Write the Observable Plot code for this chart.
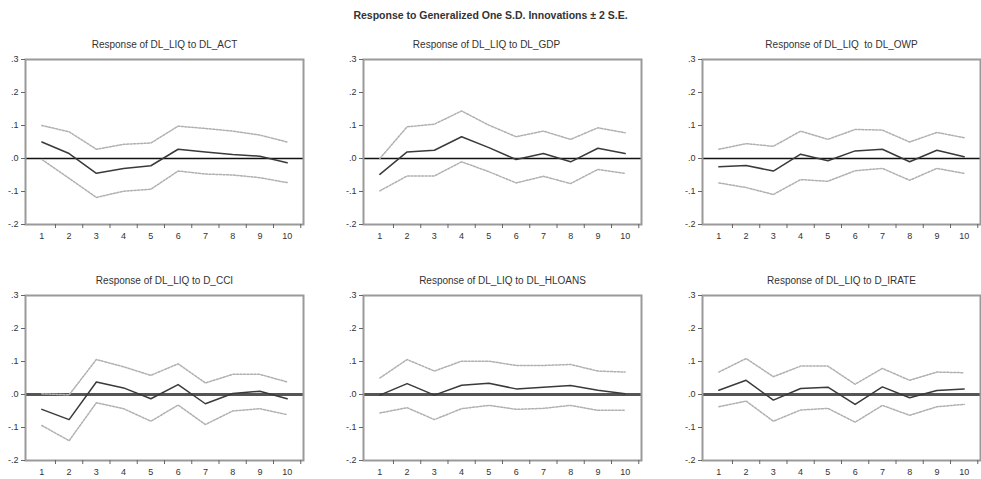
<!DOCTYPE html>
<html><head><meta charset="utf-8">
<script src="https://cdn.jsdelivr.net/npm/d3@7"></script>
<script src="https://cdn.jsdelivr.net/npm/@observablehq/plot@0.6"></script>
<style>
body{margin:0;background:#fff;overflow:hidden;}
#wrap{position:relative;width:981px;height:479px;font-family:"Liberation Sans",Arial,sans-serif;overflow:hidden;}
#main{position:absolute;top:9px;left:0;width:981px;text-align:center;font-size:10.5px;font-weight:bold;color:#333;}
.panel{position:absolute;}
</style></head><body>
<div id="wrap"><div id="main">Response to Generalized One S.D. Innovations ± 2 S.E.</div></div>
<script>
const periods = [1, 2, 3, 4, 5, 6, 7, 8, 9, 10];
const yTicks = [-0.2, -0.1, 0, 0.1, 0.2, 0.3];
const titles = [
  "Response of DL_LIQ to DL_ACT",
  "Response of DL_LIQ to DL_GDP",
  "Response of DL_LIQ  to DL_OWP",
  "Response of DL_LIQ to D_CCI",
  "Response of DL_LIQ to DL_HLOANS",
  "Response of DL_LIQ to D_IRATE"
];

const respACT  = [0.050, 0.015, -0.045, -0.030, -0.022, 0.028, 0.020, 0.012, 0.007, -0.013];
const upperACT = [0.100, 0.081, 0.028, 0.043, 0.047, 0.098, 0.091, 0.083, 0.071, 0.050];
const lowerACT = [-0.003, -0.060, -0.118, -0.099, -0.093, -0.038, -0.047, -0.050, -0.058, -0.073];

const respGDP  = [-0.048, 0.020, 0.025, 0.066, 0.033, -0.003, 0.015, -0.010, 0.031, 0.015];
const upperGDP = [0.000, 0.096, 0.104, 0.144, 0.101, 0.066, 0.083, 0.058, 0.093, 0.078];
const lowerGDP = [-0.098, -0.053, -0.053, -0.010, -0.040, -0.074, -0.054, -0.076, -0.033, -0.045];

const respOWP  = [-0.025, -0.021, -0.038, 0.013, -0.007, 0.023, 0.028, -0.010, 0.025, 0.005];
const upperOWP = [0.028, 0.045, 0.037, 0.083, 0.058, 0.088, 0.086, 0.050, 0.079, 0.063];
const lowerOWP = [-0.074, -0.088, -0.109, -0.064, -0.069, -0.037, -0.030, -0.066, -0.030, -0.045];

const respCCI  = [-0.045, -0.076, 0.038, 0.020, -0.013, 0.030, -0.028, 0.003, 0.010, -0.013];
const upperCCI = [0.002, -0.001, 0.106, 0.084, 0.058, 0.093, 0.035, 0.061, 0.061, 0.038];
const lowerCCI = [-0.094, -0.140, -0.025, -0.043, -0.081, -0.032, -0.091, -0.050, -0.043, -0.061];

const respHLOANS  = [-0.002, 0.033, -0.002, 0.028, 0.034, 0.017, 0.022, 0.027, 0.013, 0.002];
const upperHLOANS = [0.050, 0.106, 0.071, 0.101, 0.101, 0.088, 0.088, 0.091, 0.071, 0.068];
const lowerHLOANS = [-0.056, -0.040, -0.076, -0.043, -0.033, -0.045, -0.042, -0.033, -0.048, -0.048];

const respIRATE  = [0.013, 0.043, -0.017, 0.018, 0.022, -0.030, 0.023, -0.010, 0.012, 0.017];
const upperIRATE = [0.068, 0.109, 0.054, 0.086, 0.086, 0.031, 0.079, 0.043, 0.068, 0.066];
const lowerIRATE = [-0.037, -0.020, -0.081, -0.047, -0.042, -0.084, -0.033, -0.063, -0.037, -0.030];

const series = [
  [respACT, upperACT, lowerACT],
  [respGDP, upperGDP, lowerGDP],
  [respOWP, upperOWP, lowerOWP],
  [respCCI, upperCCI, lowerCCI],
  [respHLOANS, upperHLOANS, lowerHLOANS],
  [respIRATE, upperIRATE, lowerIRATE]
];

// layout
const lefts = [0, 338, 677];
const tops = [29, 265];
const titleDx = [0, -16, 0, 0, 0, 0];
const halfTicks = periods.map(p => p + 0.5);
const fmt = d => (d < -1e-9 ? "-" : "") + Math.abs(d).toFixed(1).replace(/^0/, "");

const wrap = document.getElementById("wrap");
series.forEach(([resp, up, lo], k) => {
  const row = Math.floor(k / 3), col = k % 3;
  const rows = periods.map((p, i) => ({period: p, response: resp[i], upper: up[i], lower: lo[i]}));
  const zeroStyle = row === 0 ? {stroke: "#111", strokeWidth: 1.3} : {stroke: "#555", strokeWidth: 2.8};
  const chart = Plot.plot({
    width: 304,
    height: 218,
    marginLeft: 25,
    marginRight: 1,
    marginTop: 30,
    marginBottom: 23,
    style: {fontFamily: "Liberation Sans, Arial, sans-serif", color: "#333", background: "transparent", overflow: "visible"},
    x: {domain: [0.4, 10.6]},
    y: {domain: [-0.2, 0.3]},
    marks: [
      Plot.ruleY([0], zeroStyle),
      Plot.line(rows, {x: "period", y: "upper", stroke: "#b0b0b0", strokeWidth: 1.5, strokeDasharray: "2,1.5"}),
      Plot.line(rows, {x: "period", y: "lower", stroke: "#b0b0b0", strokeWidth: 1.5, strokeDasharray: "2,1.5"}),
      Plot.line(rows, {x: "period", y: "response", stroke: "#3a3a3a", strokeWidth: 1.5}),
      Plot.frame({stroke: "#9a9a9a", strokeWidth: 2}),
      Plot.axisY({ticks: yTicks, tickFormat: fmt, tickSize: 4, tickPadding: 3, fontSize: 9, label: null, stroke: "#666"}),
      Plot.axisX({ticks: periods, tickSize: 0, tickPadding: 8, fontSize: 9, label: null}),
      Plot.axisX({ticks: halfTicks, tickFormat: () => "", tickSize: 4, label: null, stroke: "#666"}),
      Plot.text([titles[k]], {text: d => d, frameAnchor: "top", dy: -19, dx: titleDx[k], fontSize: 10, fill: "#333"})
    ]
  });
  chart.classList.add("panel");
  chart.style.left = lefts[col] + "px";
  chart.style.top = tops[row] + "px";
  wrap.appendChild(chart);
});
</script>
</body></html>
